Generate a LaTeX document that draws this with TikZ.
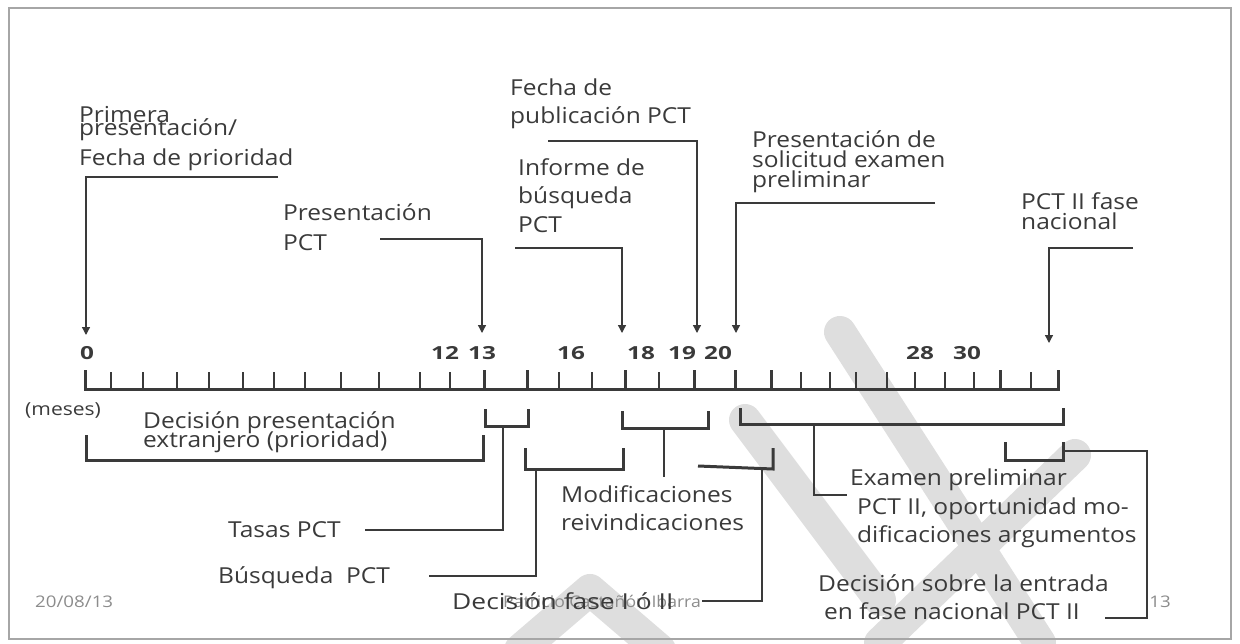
\documentclass[tikz,border=0pt]{standalone}
\usepackage{fontspec}
\usepackage{graphicx}
\setmainfont{Open Sans}
\usetikzlibrary{arrows.meta}
\definecolor{ink}{HTML}{3A3A3A}
\definecolor{wm}{HTML}{DEDEDE}
\definecolor{foot}{HTML}{8C8C8C}
\definecolor{frame}{HTML}{A6A6A6}
\newcommand\sx[1]{\scalebox{1.115}[1]{#1}}
\newcommand\sxt[1]{\scalebox{1.35}[1]{#1}}
\newcommand\sxf[1]{\scalebox{1.17}[1]{#1}}
\begin{document}
\begin{tikzpicture}[x=1pt,y=-1pt,
  lbl/.style={font=\fontsize{22}{26}\selectfont, text=ink, inner sep=0pt, anchor=base west},
  tick/.style={font=\bfseries\fontsize{18}{20}\selectfont, text=ink, inner sep=0pt, anchor=base},
  small/.style={font=\fontsize{18}{20}\selectfont, text=ink, inner sep=0pt, anchor=base west},
  foottxt/.style={font=\fontsize{16}{18}\selectfont, text=foot, inner sep=0pt, anchor=base west},
  thin/.style={draw=ink, line width=1.3pt},
  heavy/.style={draw=ink, line width=3pt},
  arr/.style={draw=ink, line width=1.3pt, -{Triangle[width=8pt,length=8pt]}},
  wmark/.style={draw=wm, line width=32pt, line cap=round, line join=round}]
\useasboundingbox (0,0) rectangle (1240,643);
% watermark
\draw[wmark] (840,332) -- (1040,643);
\draw[wmark] (745,420) -- (880,600);
\draw[wmark] (1075,455) -- (880,643);
\draw[wmark] (520,650) -- (590,590) -- (660,650);
% frame
\draw[frame, line width=2pt] (9,8) rectangle (1231,639);
% axis
\draw[heavy] (85,370) -- (85,389) -- (1058,389) -- (1058,370);
\foreach \t in {111,143,177,209,243,274,305,341,379,420,450,559,592,659,801,830,856,887,915,945,974,1031}
  \draw[draw=ink, line width=1.2pt] (\t,372) -- (\t,389);
\foreach \t in {484,527,625,694,735,771,1000}
  \draw[heavy] (\t,370) -- (\t,389);
% tick labels
\node[tick] (l0) at (87,359) {\sxt{0}};
\node[tick] (l12) at (445,359) {\sxt{12}};
\node[tick] (l13) at (482,359) {\sxt{13}};
\node[tick] (l16) at (571,359) {\sxt{16}};
\node[tick] (l18) at (641,359) {\sxt{18}};
\node[tick] (l19) at (682,359) {\sxt{19}};
\node[tick] (l20) at (718,359) {\sxt{20}};
\node[tick] (l28) at (920,359) {\sxt{28}};
\node[tick] (l30) at (967,359) {\sxt{30}};
% upper labels
\node[lbl] (p1) at (79,122) {\sx{Primera}};
\node[lbl] (p2) at (79,135) {\sx{presentación/}};
\node[lbl] (p3) at (79,165) {\sx{Fecha de prioridad}};
\node[lbl] (q1) at (283,220) {\sx{Presentación}};
\node[lbl] (q2) at (283,250) {\sx{PCT}};
\node[lbl] (f1) at (510,95) {\sx{Fecha de}};
\node[lbl] (f2) at (510,123) {\sx{publicación PCT}};
\node[lbl] (i1) at (518,175) {\sx{Informe de}};
\node[lbl] (i2) at (518,203) {\sx{búsqueda}};
\node[lbl] (i3) at (518,232) {\sx{PCT}};
\node[lbl] (s1) at (752,147) {\sx{Presentación de}};
\node[lbl] (s2) at (752,167) {\sx{solicitud examen}};
\node[lbl] (s3) at (752,187) {\sx{preliminar}};
\node[lbl] (n1) at (1021,209) {\sx{PCT II fase}};
\node[lbl] (n2) at (1021,229) {\sx{nacional}};
% arrows
\coordinate (a0s) at (278,177); \coordinate (a0c) at (86,177); \coordinate (a0e) at (86,335);
\draw[arr] (a0s) -- (a0c) -- (a0e);
\coordinate (a13s) at (380,239); \coordinate (a13c) at (482,239); \coordinate (a13e) at (482,333);
\draw[arr] (a13s) -- (a13c) -- (a13e);
\coordinate (a18s) at (515,248); \coordinate (a18c) at (622,248); \coordinate (a18e) at (622,333);
\draw[arr] (a18s) -- (a18c) -- (a18e);
\coordinate (a19s) at (548,141); \coordinate (a19c) at (697,141); \coordinate (a19e) at (697,333);
\draw[arr] (a19s) -- (a19c) -- (a19e);
\coordinate (a20s) at (935,203); \coordinate (a20c) at (736,203); \coordinate (a20e) at (736,333);
\draw[arr] (a20s) -- (a20c) -- (a20e);
\coordinate (a33s) at (1133,248); \coordinate (a33c) at (1049,248); \coordinate (a33e) at (1049,343);
\draw[arr] (a33s) -- (a33c) -- (a33e);
% lower labels
\node[small] (meses) at (25,415) {\sxf{(meses)}};
\node[lbl] (d1) at (143,428) {\sx{Decisión presentación}};
\node[lbl] (d2) at (143,447) {\sx{extranjero (prioridad)}};
\node[lbl] (tasas) at (228,537) {\sx{Tasas PCT}};
\node[lbl] (busq) at (218,583) {\sx{Búsqueda\ \ PCT}};
\node[lbl] (m1) at (561,502) {\sx{Modificaciones}};
\node[lbl] (m2) at (561,530) {\sx{reivindicaciones}};
\node[foottxt] (autor) at (503,607) {\scalebox{1.1}[1]{Patricio Castañón Ibarra}};
\node[lbl] (dfase) at (452,609) {\scalebox{1.2}[1]{Decisión fase I ó II}};
\node[lbl] (e1) at (850,485) {\sx{Examen preliminar}};
\node[lbl] (e2) at (857,514) {\sx{PCT II, oportunidad mo-}};
\node[lbl] (e3) at (857,542) {\sx{dificaciones argumentos}};
\node[lbl] (ds1) at (818,591) {\sx{Decisión sobre la entrada}};
\node[lbl] (ds2) at (824,619) {\sx{en fase nacional PCT II}};
\node[foottxt] (fecha) at (35,607) {\sxf{20/08/13}};
\node[foottxt, anchor=base] (pag) at (1160,607) {\sxf{13}};
% brackets
\draw[heavy] (86,435) -- (86,460) -- (483,460) -- (483,435);
\draw[heavy] (485,409) -- (485,426) -- (528,426) -- (528,409);
\draw[heavy] (525,448) -- (525,469) -- (623,469) -- (623,448);
\draw[heavy] (622,411) -- (622,428) -- (708,428) -- (708,411);
\draw[heavy] (698,466) -- (773,469) -- (773,448);
\draw[heavy] (740,408) -- (740,424) -- (1063,424) -- (1063,408);
\draw[heavy] (1005,442) -- (1005,460) -- (1063,460) -- (1063,442);
% bracket connectors
\coordinate (tA) at (503,426); \coordinate (tB) at (503,530); \coordinate (tC) at (365,530);
\draw[thin] (tA) -- (tB) -- (tC);
\coordinate (bA) at (536,469); \coordinate (bB) at (536,576); \coordinate (bC) at (429,576);
\draw[thin] (bA) -- (bB) -- (bC);
\coordinate (mA) at (664,428); \coordinate (mB) at (664,477);
\draw[thin] (mA) -- (mB);
\coordinate (dA) at (762,469); \coordinate (dB) at (762,601); \coordinate (dC) at (702,601);
\draw[thin] (dA) -- (dB) -- (dC);
\coordinate (eA) at (814,424); \coordinate (eB) at (814,495); \coordinate (eC) at (847,495);
\draw[thin] (eA) -- (eB) -- (eC);
\coordinate (nA) at (1063,451); \coordinate (nB) at (1147,451); \coordinate (nC) at (1147,618); \coordinate (nD) at (1105,618);
\draw[thin] (nA) -- (nB) -- (nC) -- (nD);
\end{tikzpicture}
\end{document}
